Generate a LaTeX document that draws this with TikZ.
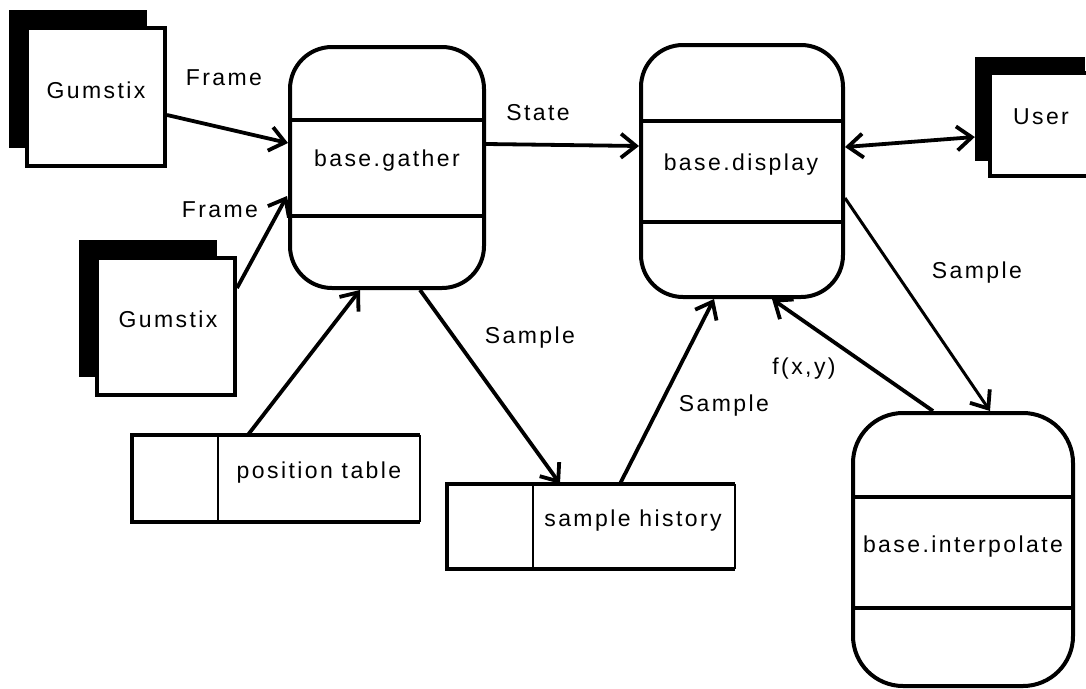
\documentclass[tikz,border=0pt]{standalone}
\usepackage{fontspec}
\setmainfont{Liberation Sans}[LetterSpace=10.5]
\usetikzlibrary{arrows.meta,calc}
\begin{document}
\begin{tikzpicture}[x=1pt,y=-1pt,
  txt/.style={font=\fontsize{23}{27}\selectfont, inner sep=0pt},
  proc/.style={draw, line width=4pt, rounded corners=42pt, inner sep=0pt},
  extbox/.style={draw, fill=white, line width=4pt, inner sep=0pt},
  shadowbox/.style={fill=black, inner sep=0pt},
  store/.style={inner sep=0pt},
  band/.style={line width=4pt},
  flow/.style={line width=3.8pt, line cap=butt, -{Straight Barb[length=15pt,width=24pt,line width=3.8pt]}},
  biflow/.style={line width=3.8pt, {Straight Barb[length=15pt,width=24pt,line width=3.8pt]}-{Straight Barb[length=15pt,width=24pt,line width=3.8pt]}}
]
\useasboundingbox (0,0) rectangle (1086,688);

% external entities
\node[shadowbox, minimum width=138pt, minimum height=138pt] (g1s) at (78,79) {};
\node[extbox, minimum width=138pt, minimum height=138pt] (g1) at (96,97) {};
\node[txt] (g1t) at (96,90) {Gumstix};

\node[shadowbox, minimum width=138pt, minimum height=137pt] (g2s) at (148,308) {};
\node[extbox, minimum width=138pt, minimum height=137pt] (g2) at (166,326) {};
\node[txt] (g2t) at (168,319) {Gumstix};

\node[shadowbox, minimum width=110pt, minimum height=104pt] (us) at (1030,109) {};
\node[extbox, minimum width=110pt, minimum height=103pt] (u) at (1045,124) {};
\node[txt] (ut) at (1041,117) {User};

% processes
\node[proc, minimum width=194pt, minimum height=241pt] (ga) at (387,167.5) {};
\draw[band] (ga.west |- 0,120) -- (ga.east |- 0,120);
\draw[band] (ga.west |- 0,216) -- (ga.east |- 0,216);
\node[txt] (gat) at (387,161) {base.gather};

\node[proc, minimum width=202pt, minimum height=252pt] (di) at (742,171) {};
\draw[band] (di.west |- 0,121) -- (di.east |- 0,121);
\draw[band] (di.west |- 0,222) -- (di.east |- 0,222);
\node[txt] (dit) at (741,165) {base.display};

\node[proc, rounded corners=50pt, minimum width=220pt, minimum height=273pt] (ip) at (963,549.5) {};
\draw[band] (ip.west |- 0,497) -- (ip.east |- 0,497);
\draw[band] (ip.west |- 0,608) -- (ip.east |- 0,608);
\node[txt] (ipt) at (963,547) {base.interpolate};

% data stores
\node[store, minimum width=288pt, minimum height=87pt] (pt) at (276,478.5) {};
\draw[line width=4pt] (pt.north east) -- (pt.north west) -- (pt.south west) -- (pt.south east);
\draw[line width=1.5pt] (pt.north east) -- (pt.south east);
\draw[line width=2.5pt] (pt.north west -| 218,0) -- (pt.south west -| 218,0);
\node[txt] (ptt) at (319,473) {position table};

\node[store, minimum width=288pt, minimum height=85pt] (sh) at (591,526.5) {};
\draw[line width=4pt] (sh.north east) -- (sh.north west) -- (sh.south west) -- (sh.south east);
\draw[line width=1.5pt] (sh.north east) -- (sh.south east);
\draw[line width=2.5pt] (sh.north west -| 533,0) -- (sh.south west -| 533,0);
\node[txt] (sht) at (633,521) {sample history};

% flows
\draw[flow] ($(g1.east)+(0,18)$) -- ($(ga.west)+(0,-24.5)$);
\draw[flow] ($(g2.east)+(0,-38)$) -- ($(ga.west)+(-1,28.5)$);
\draw[flow] ($(pt.north)+(-28,0)$) -- ($(ga.south)+(-27,0)$);
\draw[flow] ($(ga.south)+(33,0)$) -- ($(sh.north)+(-31,0)$);
\draw[flow] ($(sh.north)+(29,0)$) -- ($(di.south)+(-28,0)$);
\draw[flow] ($(ga.east)+(0,-23.5)$) -- ($(di.west)+(0,-25)$);
\draw[biflow] ($(di.east)+(0,-24)$) -- ($(us.west)+(0,28)$);
\draw[flow, line width=3pt] ($(di.east)+(0,27)$) -- ($(ip.north)+(27,0)$);
\draw[flow] ($(ip.north)+(-30,0)$) -- ($(di.south)+(30,0)$);

% labels
\node[txt] (l1) at (224,78) {Frame};
\node[txt] (l2) at (220,210) {Frame};
\node[txt] (l3) at (538,113) {State};
\node[txt] (l4) at (530,338) {Sample};
\node[txt] (l5) at (724,406) {Sample};
\node[txt] (l6) at (977,273) {Sample};
\node[txt] (l7) at (804,369) {f(x,y)};
\end{tikzpicture}
\end{document}
